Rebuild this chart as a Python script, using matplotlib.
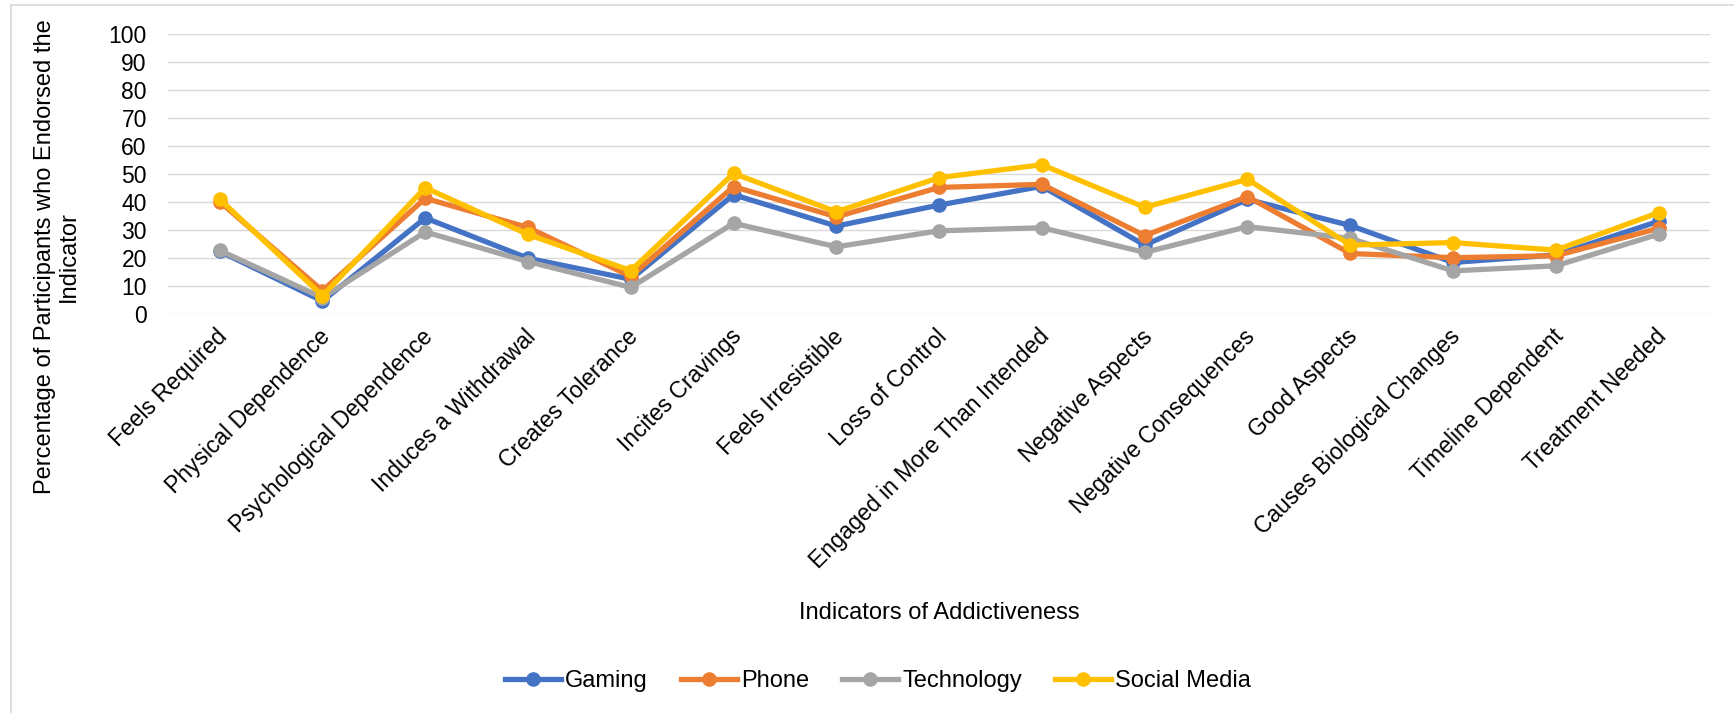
import matplotlib.pyplot as plt
from matplotlib.lines import Line2D
from matplotlib.transforms import ScaledTranslation

plt.rcParams['font.family'] = ['Liberation Sans', 'DejaVu Sans']

# Indicators on the x axis
indicators = [
    'Feels Required', 'Physical Dependence', 'Psychological Dependence',
    'Induces a Withdrawal', 'Creates Tolerance', 'Incites Cravings',
    'Feels Irresistible', 'Loss of Control', 'Engaged in More Than Intended',
    'Negative Aspects', 'Negative Consequences', 'Good Aspects',
    'Causes Biological Changes', 'Timeline Dependent', 'Treatment Needed',
]

# Percentage of participants endorsing each indicator
gaming = [22.3, 4.5, 34.2, 19.8, 12.3, 42.5, 31.3, 38.8, 45.5, 24.5, 40.8, 31.5, 18.3, 21.0, 33.0]
phone = [40.0, 8.2, 41.2, 30.8, 13.3, 45.4, 34.6, 45.1, 46.2, 27.9, 41.8, 21.5, 20.0, 20.7, 30.5]
technology = [22.6, 5.7, 29.2, 18.6, 9.4, 32.3, 23.9, 29.6, 30.7, 21.9, 31.1, 26.9, 15.3, 17.1, 28.4]
social_media = [40.9, 6.4, 45.0, 28.3, 15.4, 50.1, 36.4, 48.6, 53.2, 38.0, 48.0, 24.5, 25.4, 22.7, 36.1]

series = [
    ('Gaming', gaming, '#4472C4'),
    ('Phone', phone, '#ED7D31'),
    ('Technology', technology, '#A5A5A5'),
    ('Social Media', social_media, '#FFC000'),
]

W, H = 1734, 713
fig = plt.figure(figsize=(W / 100, H / 100), dpi=100)
ax = fig.add_axes([168.3 / W, 1 - 313.7 / H, (1710 - 168.3) / W, 280 / H])

x = list(range(len(indicators)))
handles = []
for name, vals, color in series:
    ax.plot(x, vals, color=color, linewidth=3.8, marker='o', markersize=9.5,
            solid_capstyle='round', solid_joinstyle='round', zorder=3)
    handles.append(Line2D([], [], color=color, linewidth=3.8, marker='o',
                          markersize=9.5, label=name))

ax.set_xlim(-0.5, len(indicators) - 0.5)
ax.set_ylim(0, 100)
ax.set_yticks(range(0, 101, 10))
ax.yaxis.grid(True, color='#D9D9D9', linewidth=1.0)
ax.set_axisbelow(True)
for s in ax.spines.values():
    s.set_visible(False)
ax.tick_params(axis='both', length=0, labelsize=16.5)
ax.tick_params(axis='y', pad=15.5)
ax.tick_params(axis='x', pad=14)
ax.set_xticks(x)
ax.set_xticklabels(indicators, rotation=45, ha='right', va='center',
                   rotation_mode='anchor')
shift = ScaledTranslation(4 / 100, 0, fig.dpi_scale_trans)
for lbl in ax.get_xticklabels():
    lbl.set_transform(lbl.get_transform() + shift)

# axis titles
fig.text(939 / W, 1 - 613 / H, 'Indicators of Addictiveness', fontsize=17,
         ha='center', va='center')
fig.text(57 / W, 1 - 257 / H,
         'Percentage of Participants who Endorsed the\nIndicator',
         fontsize=17, rotation=90, ha='center', va='center',
         multialignment='center', linespacing=1.15)

fig.legend(handles=handles, loc='center', bbox_to_anchor=(878 / W, 1 - 681 / H),
           ncol=4, frameon=False, fontsize=17, handlelength=2.37,
           handletextpad=0.17, columnspacing=1.4)

# chart area border
fig.add_artist(Line2D([11 / W, 11 / W], [0, 1 - 5 / H], color='#D9D9D9', linewidth=1.2))
fig.add_artist(Line2D([11 / W, 1], [1 - 5 / H, 1 - 5 / H], color='#D9D9D9', linewidth=1.2))

fig.savefig('out.png', dpi=100, facecolor='white')
